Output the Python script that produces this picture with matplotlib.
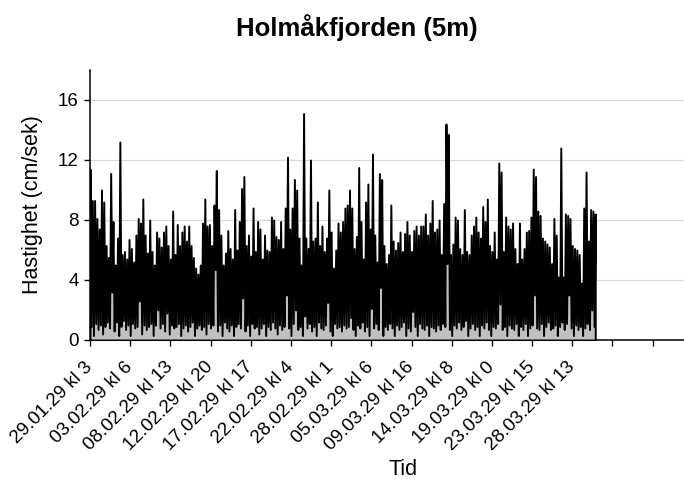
import matplotlib
matplotlib.use("Agg")
import matplotlib.pyplot as plt
import numpy as np

plt.rcParams['font.family'] = ['Liberation Sans', 'DejaVu Sans']

# current speed (cm/sek): local maxima and the minima between them
peaks = [
    11.4, 9.3, 9.3, 8.1, 7.4, 10.0, 9.2, 6.3, 5.5, 11.1, 7.9, 5.0, 6.8, 13.2, 5.7, 5.9, 5.4, 6.7, 6.1,
    5.2, 7.0, 8.1, 7.8, 9.4, 7.0, 5.8, 8.0, 5.9, 5.0, 7.2, 6.8, 6.2, 7.2, 7.6, 6.3, 5.4, 8.6,
    5.7, 7.7, 6.3, 7.2, 7.6, 6.6, 7.6, 6.3, 5.5, 4.8, 4.4, 5.0, 7.8, 9.4, 7.6, 7.7, 6.3, 9.0, 11.3,
    8.7, 7.0, 5.0, 5.8, 7.3, 6.1, 5.4, 8.7, 6.0, 7.9, 10.1, 10.9, 6.3, 7.0, 5.6, 8.8, 5.9, 7.9,
    7.4, 5.4, 7.0, 6.0, 5.9, 8.2, 8.0, 6.9, 6.7, 7.9, 6.1, 8.8, 12.2, 7.4, 8.8, 10.7, 10.0, 6.8, 5.0,
    15.1, 6.8, 6.1, 12.0, 6.6, 6.8, 9.2, 6.3, 7.6, 5.9, 6.8, 10.0, 7.2, 4.8, 6.0, 7.8, 7.2, 7.9, 8.8,
    9.0, 10.0, 8.8, 6.1, 6.9, 11.5, 7.9, 5.4, 9.2, 10.4, 7.4, 12.4, 7.0, 5.2, 11.1, 10.7, 6.3, 5.1,
    5.7, 9.0, 6.6, 6.0, 6.5, 7.2, 5.9, 7.1, 7.9, 7.0, 5.9, 7.3, 7.6, 7.0, 7.6, 7.6, 8.4, 7.0, 7.8,
    9.3, 7.2, 7.4, 8.0, 5.7, 9.1, 14.4, 13.7, 5.7, 6.4, 8.2, 8.0, 6.1, 5.7, 8.7, 5.9, 5.7, 7.0, 7.6,
    8.2, 7.2, 6.8, 8.9, 7.9, 9.4, 6.3, 5.9, 7.2, 5.4, 11.8, 11.2, 5.9, 8.2, 7.6, 7.4, 7.8, 6.1, 5.1,
    7.8, 5.4, 6.1, 7.2, 7.3, 8.2, 11.4, 10.9, 8.6, 8.3, 6.8, 6.6, 6.4, 6.2, 5.1, 8.1, 7.0, 4.2, 12.8,
    4.2, 8.4, 8.3, 8.1, 6.3, 6.1, 6.0, 5.7, 3.8, 8.8, 11.2, 6.6, 8.7, 8.6, 8.4,
]
troughs = [
    0.9, 0.3, 1.1, 0.7, 1.0, 0.4, 0.9, 1.2, 0.8, 3.2, 0.6, 1.2, 0.3, 0.9, 1.3, 0.7, 1.0, 0.3, 1.1,
    0.8, 0.9, 2.6, 0.4, 1.0, 0.7, 0.9, 1.1, 0.3, 1.0, 2.0, 0.8, 1.1, 0.6, 1.8, 0.4, 1.0, 0.8,
    0.9, 1.1, 0.3, 0.8, 1.0, 0.6, 0.9, 1.2, 0.3, 0.8, 1.0, 0.7, 0.9, 0.4, 1.1, 0.8, 1.0, 4.7, 0.6,
    1.0, 0.3, 1.2, 0.8, 0.6, 1.0, 0.3, 0.9, 1.1, 0.8, 2.8, 0.6, 1.0, 0.3, 1.1, 0.8, 0.9, 0.4,
    0.8, 1.1, 0.3, 0.9, 0.7, 1.2, 0.8, 0.4, 1.0, 0.7, 0.9, 3.0, 0.8, 0.3, 1.1, 2.0, 0.7, 0.9, 0.3,
    1.6, 0.8, 1.1, 0.6, 0.9, 0.3, 1.2, 0.8, 0.7, 1.0, 2.5, 0.6, 0.3, 1.1, 0.8, 0.9, 0.6, 1.0, 0.8,
    0.9, 1.5, 0.7, 0.3, 1.0, 0.8, 1.2, 0.6, 0.9, 0.3, 2.1, 0.8, 1.1, 0.7, 3.5, 0.3, 0.9, 0.7,
    1.1, 0.8, 0.3, 1.0, 0.7, 0.9, 1.2, 0.3, 0.8, 0.6, 1.9, 0.9, 0.3, 1.1, 0.8, 0.7, 1.0, 0.3, 0.9,
    0.8, 0.6, 1.0, 0.7, 1.1, 0.9, 5.1, 0.7, 0.3, 1.0, 0.8, 1.2, 0.7, 0.9, 1.3, 0.3, 0.8, 1.1, 0.7,
    0.9, 0.3, 1.0, 0.8, 1.2, 0.7, 0.3, 0.9, 0.8, 1.1, 2.4, 0.7, 0.9, 0.3, 1.0, 0.8, 0.7, 1.1, 0.3,
    0.9, 0.7, 1.1, 0.3, 0.8, 1.0, 3.0, 0.8, 0.7, 1.1, 0.3, 0.9, 1.2, 0.7, 0.8, 1.0, 0.3, 0.9, 1.2,
    0.7, 1.1, 3.0, 0.8, 0.3, 1.0, 0.7, 0.9, 0.3, 0.8, 1.1, 0.7, 2.0, 0.9,
]

tick_labels = ["29.01.29 kl 3", "03.02.29 kl 6", "08.02.29 kl 13", "12.02.29 kl 20",
               "17.02.29 kl 17", "22.02.29 kl 4", "28.02.29 kl 1", "05.03.29 kl 6",
               "09.03.29 kl 16", "14.03.29 kl 8", "19.03.29 kl 0", "23.03.29 kl 15",
               "28.03.29 kl 13", "", ""]
y_ticks = [0, 4, 8, 12, 16]

speed = np.empty(len(peaks) + len(troughs))
speed[0::2] = peaks
speed[1::2] = troughs
x = np.arange(len(speed))
step = 35  # samples between category ticks

fig = plt.figure(figsize=(6.84, 4.79), dpi=100)
ax = fig.add_axes([90 / 684, 139 / 479, 594 / 684, 270 / 479])

ax.fill_between(x, 0, speed, facecolor='#c0c0c0', edgecolor='black', linewidth=1.4, zorder=3)

ax.set_ylim(0, 18)
ax.set_yticks(y_ticks)
ax.set_xlim(0, 14.78 * step)
ax.set_xticks(np.arange(len(tick_labels)) * step)
ax.set_xticklabels(tick_labels, rotation=45, ha='right', va='center', rotation_mode='anchor')

ax.grid(axis='y', color='#d9d9d9', linewidth=0.8)
ax.set_axisbelow(True)
for side in ['top', 'right']:
    ax.spines[side].set_visible(False)
for side in ['left', 'bottom']:
    ax.spines[side].set_linewidth(1.1)
ax.tick_params(axis='x', length=4.5, width=1.0, labelsize=13.5, pad=13)
ax.tick_params(axis='y', length=4.5, width=1.0, labelsize=13.5, pad=3.5)

ax.set_ylabel("Hastighet (cm/sek)", fontsize=15.5)
ax.yaxis.set_label_coords(-0.079, 0.5)
ax.set_xlabel("Tid", fontsize=15.5)
ax.xaxis.set_label_coords(0.527, -0.441)

fig.text(357 / 684, 1 - 28 / 479, "Holmåkfjorden (5m)", fontsize=18.5, fontweight='bold',
         ha='center', va='center')

fig.savefig("out.png", dpi=100)
